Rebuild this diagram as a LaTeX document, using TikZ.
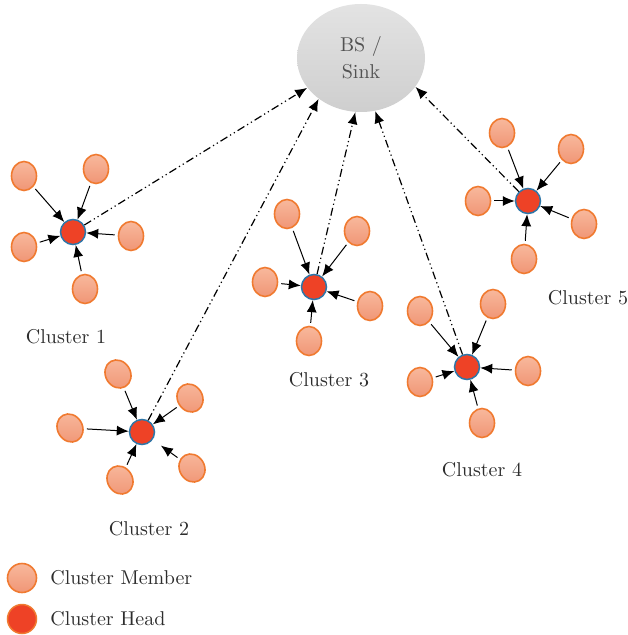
\documentclass[tikz,border=0pt]{standalone}
\usetikzlibrary{arrows.meta,shapes.geometric,positioning}

\definecolor{memtop}{RGB}{248,184,156}
\definecolor{membot}{RGB}{240,150,118}
\definecolor{memline}{RGB}{240,122,48}
\definecolor{headfill}{RGB}{238,66,38}
\definecolor{headline}{RGB}{46,118,168}
\definecolor{txt}{RGB}{45,45,45}

\begin{document}
\begin{tikzpicture}[x=0.5pt,y=-0.5pt,
    member/.style = {ellipse,draw=memline,line width=0.8pt,top color=memtop,bottom color=membot,minimum width=12.5pt,minimum height=14.5pt,inner sep=0pt},
    head/.style = {circle,draw=headline,line width=0.75pt,fill=headfill,minimum size=12.5pt,inner sep=0pt},
    feed/.style = {-{Latex[length=6pt,width=5pt]},line width=0.5pt,shorten <=1.5pt},
    uplink/.style = {-{Latex[length=6pt,width=5pt]},line width=0.6pt,dash pattern=on 4pt off 1.6pt on 0.6pt off 1.6pt on 0.6pt off 1.6pt},
    caption/.style = {text=txt,font=\normalsize}]
\useasboundingbox (0,0) rectangle (627,635);

% base station
\node[ellipse,top color=gray!22,bottom color=gray!38,minimum width=64pt,minimum height=54pt,
      text=black!68,align=center,font={\fontsize{10}{13.5}\selectfont}] (bs) at (361,58) {BS /\\Sink};

% cluster heads
\node[head] (h1) at (73,232) {};
\node[head] (h2) at (142,432) {};
\node[head] (h3) at (314,287) {};
\node[head] (h4) at (467,367) {};
\node[head] (h5) at (528,201) {};

% members of each cluster
\foreach \p [count=\k] in {(24,176),(96,169),(24,247),(131,236),(85,289)} \node[member] (m1\k) at \p {};
\foreach \p [count=\k] in {(118,374),(190,398),(70,428),(120,480),(192,468)} \node[member,rotate=30] (m2\k) at \p {};
\foreach \p [count=\k] in {(287,214),(357,231),(265,282),(370,306),(309,341)} \node[member] (m3\k) at \p {};
\foreach \p [count=\k] in {(420,311),(493,304),(420,382),(528,371),(482,423)} \node[member] (m4\k) at \p {};
\foreach \p [count=\k] in {(502,133),(571,149),(478,201),(584,224),(524,259)} \node[member] (m5\k) at \p {};

\foreach \c in {1,3,4,5} \foreach \k in {1,...,5} \draw[feed] (m\c\k) -- (h\c);
\foreach \k in {1,...,4} \draw[feed] (m2\k) -- (h2);
\draw[feed,shorten >=5pt] (m25) -- (h2);

% heads to sink
\draw[uplink] (h1) -- (bs.209);
\draw[uplink] (h2) -- (bs.224);
\draw[uplink] (h3) -- (bs.264);
\draw[uplink] (h4) -- (bs.285);
\draw[uplink] (h5) -- (bs.332);

% labels
\node[caption] (c1) at (66,337) {Cluster 1};
\node[caption] (c2) at (149,529) {Cluster 2};
\node[caption] (c3) at (329,380) {Cluster 3};
\node[caption] (c4) at (482,470) {Cluster 4};
\node[caption] (c5) at (588,298) {Cluster 5};

% legend
\node[member,minimum width=14.5pt,minimum height=14.5pt] (lm) at (22,578) {};
\node[head,draw=memline,minimum size=14.5pt] (lh) at (22,619) {};
\node[caption,right=3pt of lm] (lmtxt) {Cluster Member};
\node[caption,right=3pt of lh] (lhtxt) {Cluster Head};
\end{tikzpicture}
\end{document}
